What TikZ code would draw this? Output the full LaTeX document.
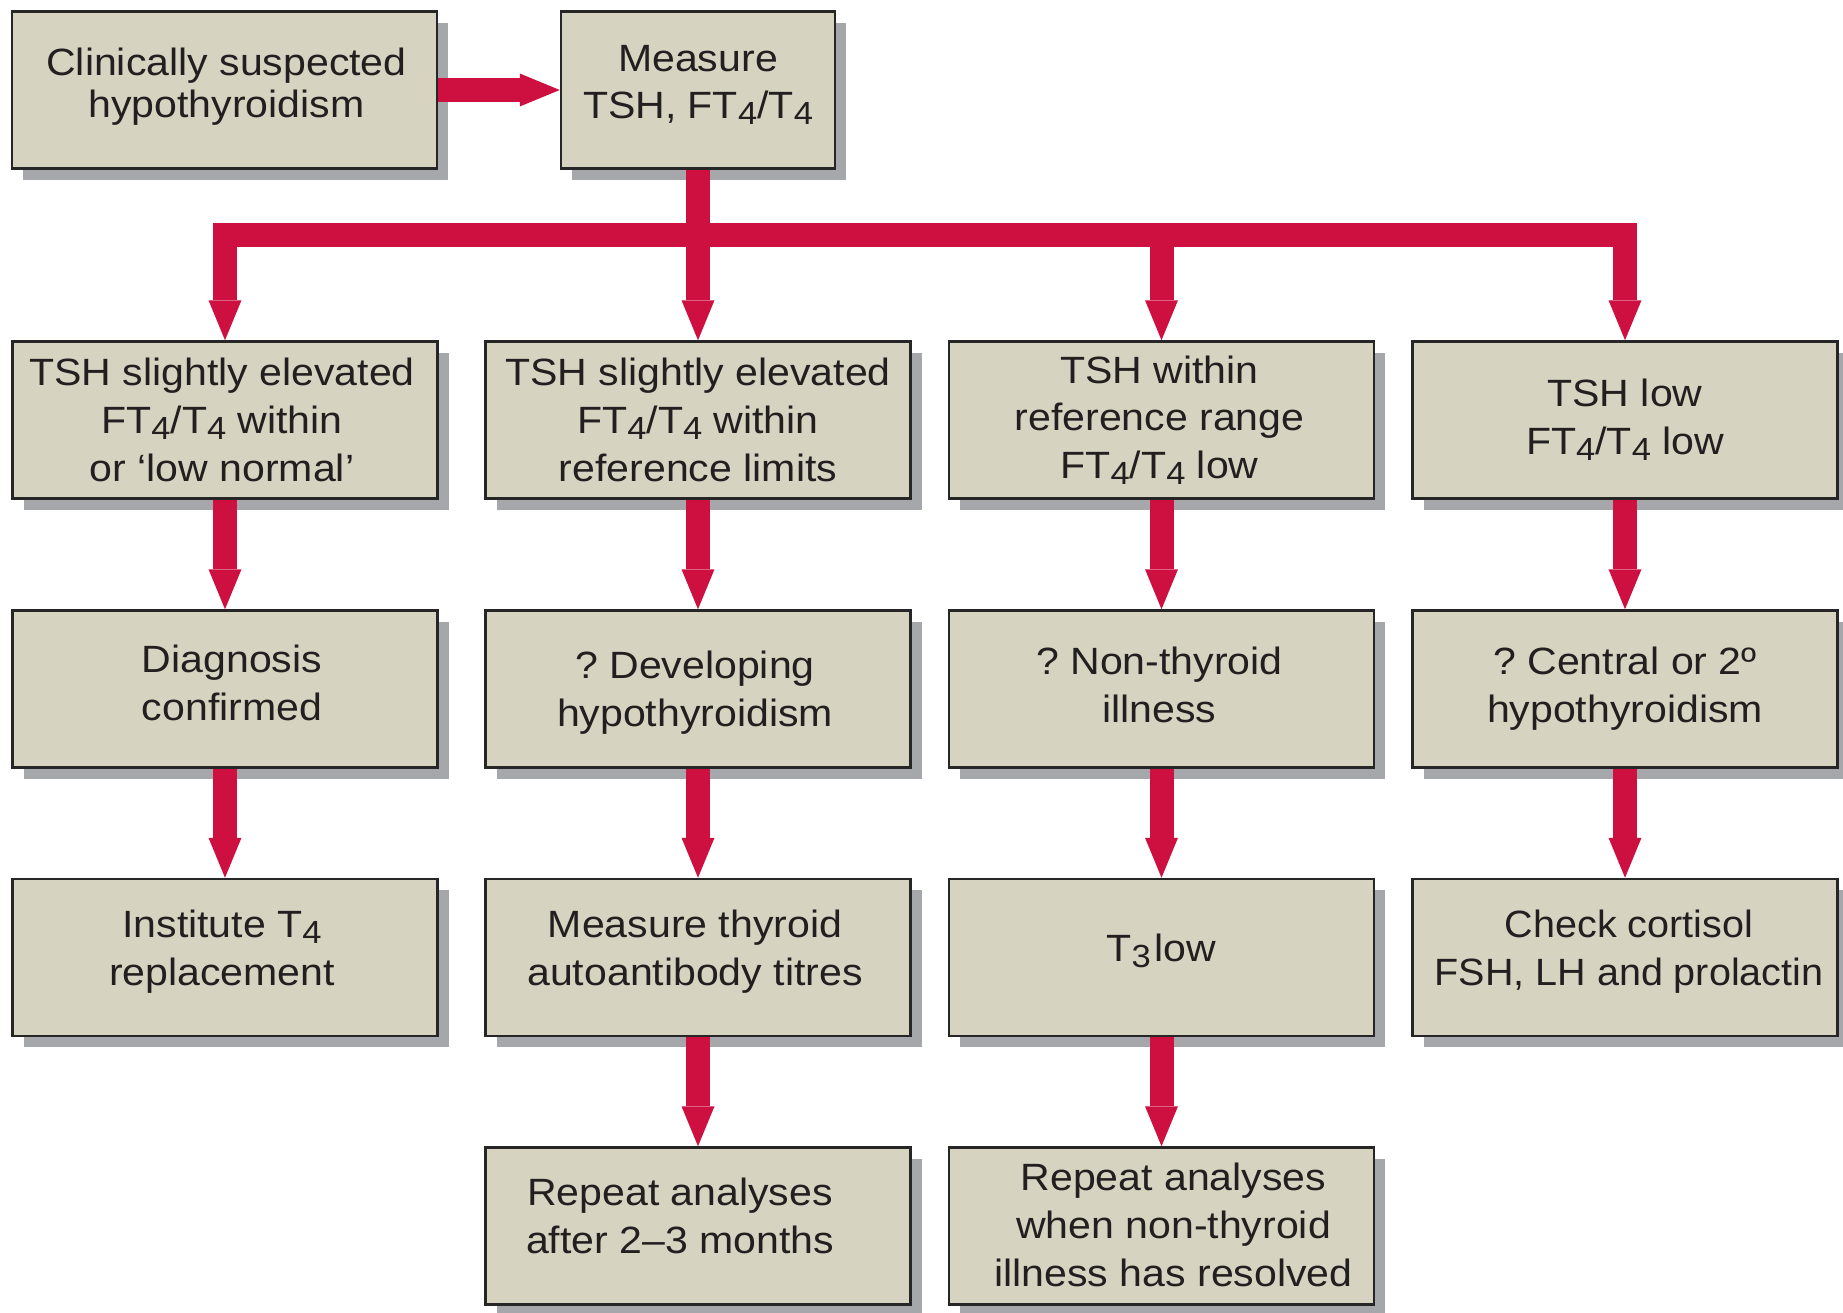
\documentclass[tikz,border=0pt]{standalone}
\usepackage{fontspec}
\setmainfont{Liberation Sans}[FakeStretch=1.08]
\newfontfamily\narrowfont{Liberation Sans}[FakeStretch=1.04]
\usetikzlibrary{arrows.meta,shadows}
\definecolor{boxfill}{RGB}{214,211,192}
\definecolor{shgray}{RGB}{166,167,171}
\definecolor{arrred}{RGB}{206,16,64}
\definecolor{txtc}{RGB}{35,31,32}
\frenchspacing
\newcommand{\sbs}[1]{\lower6pt\hbox{\fontsize{32}{32}\selectfont #1}}
\newbox\mlbox
\newdimen\mlht
\newdimen\mldp
% multi-line centred text, shifted right by #1 and up by #2 without changing its box
\newcommand{\mlines}[3]{%
  \setbox\mlbox=\vbox{\let\\=\cr\halign{\hfil##\hfil\cr #3\crcr}}%
  \mlht=\ht\mlbox \mldp=\dp\mlbox
  \setbox\mlbox=\hbox{\raise#2\box\mlbox}%
  \ht\mlbox=\mlht \dp\mlbox=\mldp
  \hskip#1\relax\box\mlbox\hskip-#1\relax\hbox{}}
\begin{document}
\begin{tikzpicture}[x=1pt,y=-1pt,
  box/.style={draw=black!85, line width=2.5pt, fill=boxfill,
    minimum width=425pt, minimum height=157pt, inner sep=0pt,
    text=txtc, font=\fontsize{38}{47.7}\selectfont,
    general shadow={fill=shgray, shadow xshift=11pt, shadow yshift=-11pt}},
  arr/.style={draw=arrred, line width=24pt,
    -{Triangle[width=33pt,length=40pt,line width=0pt]}},
  arrboth/.style={draw=arrred, line width=24pt,
    {Triangle[width=33pt,length=40pt,line width=0pt]}-{Triangle[width=33pt,length=40pt,line width=0pt]}},
]
\useasboundingbox (0,0) rectangle (1843,1312);

% row 1
\node[box, font=\fontsize{38}{42.3}\selectfont] (clin) at (224.5,90) {\mlines{2pt}{3pt}{Clinically suspected\\hypothyroidism}};
\node[box, minimum width=274pt] (meas) at (698,90) {\mlines{0pt}{5pt}{Measure\\TSH, FT\sbs{4}/T\sbs{4}}};

% row 2
\node[box] (a1) at (225,420) {\mlines{-3pt}{0pt}{TSH slightly elevated\\FT\sbs{4}/T\sbs{4} within\\or ‘low normal’}};
\node[box] (b1) at (698,420) {\mlines{0pt}{0pt}{TSH slightly elevated\\FT\sbs{4}/T\sbs{4} within\\reference limits}};
\node[box] (c1) at (1161.5,420) {\mlines{-2pt}{0pt}{TSH within\\reference range\\FT\sbs{4}/T\sbs{4} low}};
\node[box] (d1) at (1625,420) {\mlines{0pt}{0pt}{TSH low\\FT\sbs{4}/T\sbs{4} low}};

% row 3
\node[box] (a2) at (225,689) {\mlines{7pt}{6pt}{Diagnosis\\confirmed}};
\node[box] (b2) at (698,689) {\mlines{-3pt}{-4pt}{? Developing\\hypothyroidism}};
\node[box] (c2) at (1161.5,689) {\mlines{-2pt}{4pt}{? Non-thyroid\\illness}};
\node[box] (d2) at (1625,689) {\mlines{0pt}{0pt}{? Central or 2º\\hypothyroidism}};

% row 4
\node[box] (a3) at (225,957.5) {\mlines{-3pt}{6pt}{Institute T\sbs{4}\\replacement}};
\node[box] (b3) at (698,957.5) {\mlines{-3pt}{6pt}{Measure thyroid\\autoantibody titres}};
\node[box] (c3) at (1161.5,957.5) {\mlines{0pt}{7pt}{T\sbs{3}\hspace{4pt}low}};
\node[box, font=\narrowfont\fontsize{38}{47.7}\selectfont] (d3) at (1625,957.5) {\mlines{4pt}{6pt}{Check cortisol\\FSH, LH and prolactin}};

% row 5
\node[box] (b4) at (698,1226) {\mlines{-18pt}{10pt}{Repeat analyses\\after 2–3 months}};
\node[box] (c4) at (1161.5,1226) {\mlines{12pt}{1pt}{Repeat analyses\\when non-thyroid\\illness has resolved}};

% connectors
\coordinate (bar) at (698,234.5);
\draw[arr] (clin.east) -- (meas.west);
\draw[arrboth] (a1.north) -- (a1.north |- bar) -- (d1.north |- bar) -- (d1.north);
\draw[arr] (meas.south) -- (b1.north);
\draw[arr] (c1.north |- bar) -- (c1.north);

\draw[arr] (a1.south) -- (a2.north);
\draw[arr] (a2.south) -- (a3.north);
\draw[arr] (b1.south) -- (b2.north);
\draw[arr] (b2.south) -- (b3.north);
\draw[arr] (b3.south) -- (b4.north);
\draw[arr] (c1.south) -- (c2.north);
\draw[arr] (c2.south) -- (c3.north);
\draw[arr] (c3.south) -- (c4.north);
\draw[arr] (d1.south) -- (d2.north);
\draw[arr] (d2.south) -- (d3.north);
\end{tikzpicture}
\end{document}
